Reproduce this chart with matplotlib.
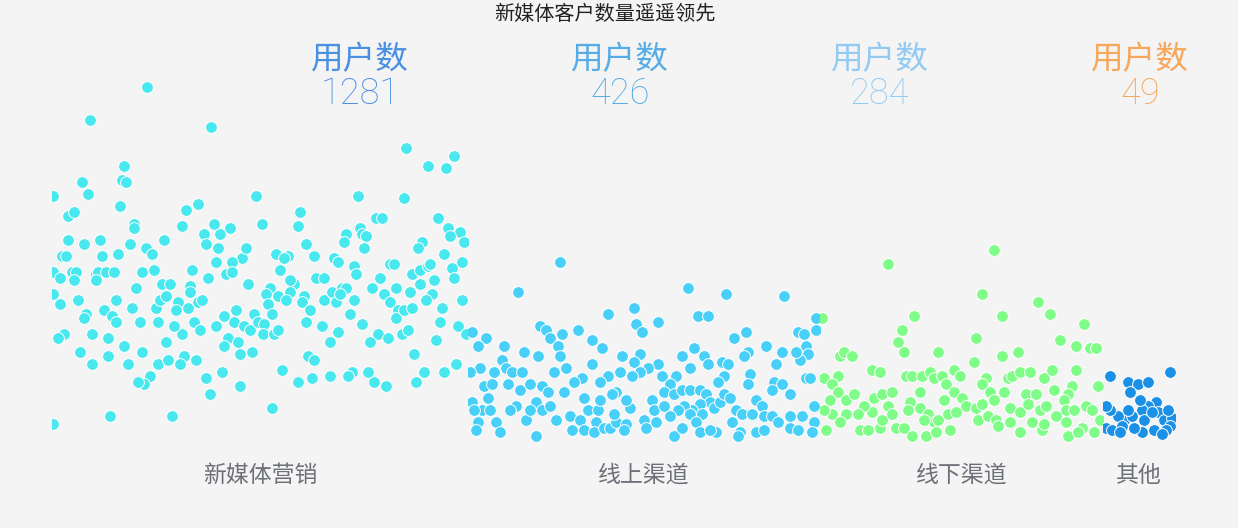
import matplotlib
matplotlib.use("Agg")
import matplotlib.pyplot as plt
import numpy as np

plt.rcParams['font.family'] = ['Noto Sans CJK SC', 'DejaVu Sans']

# groups: name, user count, colour of dots
categories = ["新媒体营销", "线上渠道", "线下渠道", "其他"]
user_counts = [1281, 426, 284, 49]
header_colors = ["#4A90E2", "#56ACE4", "#92CAF2", "#F7A65A"]
dot_colors = ["#48E8EE", "#48D0F8", "#80FC88", "#1A90E6"]

# (offset inside group, value)
xinmeiti = [
    (95, 363), (38, 330), (159, 323), (354, 302), (376, 284), (394, 282), (402, 294),
    (1, 254), (30, 268), (36, 256), (72, 284), (70, 270), (74, 268), (68, 244),
    (204, 254), (306, 254), (352, 252), (16, 234), (22, 238), (82, 226), (82, 222),
    (134, 240), (146, 246), (130, 224), (162, 226), (152, 216), (168, 216), (178, 222),
    (154, 206), (166, 202), (210, 226), (248, 238), (246, 224), (324, 232), (330, 232),
    (386, 232), (396, 222), (408, 218), (398, 214), (412, 208), (16, 210), (32, 206),
    (48, 210), (78, 206), (112, 210), (94, 202), (100, 196), (294, 216), (292, 208),
    (308, 222), (310, 216), (314, 214), (312, 202), (254, 206), (262, 194), (370, 208),
    (366, 202), (392, 196), (410, 188), (10, 194), (14, 194), (50, 194), (66, 196),
    (190, 192), (194, 202), (180, 188), (164, 188), (224, 196), (236, 194), (232, 192),
    (282, 192), (286, 188), (302, 184), (304, 176), (338, 186), (342, 186), (360, 176),
    (368, 180), (376, 184), (378, 186), (400, 182), (402, 172), (1, 178), (8, 172),
    (20, 178), (24, 178), (22, 170), (44, 176), (46, 178), (54, 178), (62, 178),
    (44, 170), (90, 178), (102, 180), (140, 180), (156, 172), (174, 176), (180, 178),
    (228, 180), (264, 172), (272, 172), (328, 172), (382, 170), (368, 166), (358, 158),
    (380, 156), (374, 150), (84, 162), (110, 166), (118, 166), (138, 164), (138, 158),
    (136, 142), (196, 166), (218, 162), (214, 156), (226, 154), (216, 146), (242, 166),
    (238, 170), (238, 158), (234, 150), (252, 154), (250, 148), (258, 140), (272, 150),
    (280, 158), (290, 162), (294, 162), (284, 148), (288, 156), (302, 150), (298, 136),
    (320, 162), (332, 156), (338, 148), (344, 162), (346, 140), (344, 132), (352, 140),
    (360, 142), (390, 142), (388, 128), (384, 110), (410, 150), (1, 156), (8, 146),
    (26, 150), (34, 136), (32, 132), (52, 140), (60, 134), (64, 128), (64, 150),
    (80, 142), (88, 128), (106, 128), (104, 142), (108, 150), (114, 154), (126, 148),
    (124, 140), (146, 148), (150, 150), (142, 128), (148, 120), (130, 116), (122, 124),
    (114, 108), (164, 124), (172, 134), (184, 140), (182, 128), (192, 124), (198, 120),
    (202, 136), (206, 128), (212, 126), (220, 136), (211, 116), (222, 116), (226, 120),
    (176, 112), (172, 104), (186, 108), (188, 96), (200, 98), (254, 128), (270, 124),
    (286, 118), (278, 108), (310, 126), (326, 116), (318, 108), (336, 112), (350, 116),
    (356, 120), (406, 124), (414, 116), (12, 116), (6, 112), (40, 116), (56, 112),
    (72, 104), (90, 98), (28, 98), (40, 86), (56, 94), (76, 86), (106, 86), (116, 90),
    (132, 94), (128, 86), (144, 90), (98, 74), (92, 66), (86, 68), (154, 72), (170, 78),
    (158, 56), (188, 64), (230, 80), (256, 94), (262, 90), (246, 68), (260, 72),
    (278, 74), (300, 78), (296, 74), (316, 78), (322, 68), (334, 64), (362, 96),
    (372, 78), (364, 68), (392, 78), (404, 86), (220, 42), (58, 34), (120, 34), (1, 26),
]

xianshang = [
    (92, 188), (50, 158), (220, 162), (258, 156), (316, 154), (140, 136), (166, 142),
    (168, 126), (174, 118), (190, 128), (230, 134), (240, 134), (72, 124), (78, 120),
    (82, 112), (94, 116), (90, 104), (92, 94), (110, 120), (124, 110), (134, 102),
    (4, 118), (18, 112), (10, 104), (36, 104), (56, 98), (70, 94), (34, 90), (38, 82),
    (266, 112), (278, 118), (298, 104), (280, 98), (276, 94), (314, 98), (308, 86),
    (330, 118), (336, 116), (348, 120), (338, 104), (340, 96), (332, 90), (328, 98),
    (226, 102), (236, 94), (214, 94), (240, 86), (222, 82), (254, 88), (260, 86),
    (154, 94), (172, 96), (166, 88), (190, 86), (180, 82), (172, 78), (164, 74),
    (152, 78), (140, 74), (132, 68), (124, 86), (114, 72), (106, 68), (98, 82),
    (86, 78), (12, 82), (26, 78), (44, 78), (54, 78), (2, 78), (16, 64), (24, 66),
    (40, 66), (52, 60), (62, 66), (74, 64), (80, 58), (68, 48), (20, 52), (4, 48),
    (14, 40), (22, 40), (6, 40), (10, 28), (8, 20), (28, 28), (32, 18), (48, 44),
    (42, 40), (58, 30), (62, 40), (74, 40), (82, 44), (88, 30), (96, 58), (102, 34),
    (104, 20), (112, 30), (116, 52), (120, 40), (130, 40), (128, 28), (132, 50),
    (116, 20), (126, 18), (136, 22), (142, 22), (148, 28), (158, 26), (156, 20),
    (146, 36), (162, 42), (158, 50), (148, 58), (144, 56), (176, 30), (178, 22),
    (188, 28), (184, 50), (186, 40), (196, 44), (194, 74), (208, 74), (202, 66),
    (196, 58), (206, 56), (214, 60), (222, 60), (232, 60), (238, 56), (242, 48),
    (232, 46), (224, 40), (216, 44), (210, 40), (202, 34), (206, 14), (214, 22),
    (222, 36), (234, 36), (228, 28), (232, 18), (246, 42), (252, 48), (256, 56),
    (262, 52), (256, 74), (250, 68), (248, 18), (242, 20), (268, 40), (274, 36),
    (264, 28), (272, 18), (270, 14), (284, 36), (288, 50), (294, 44), (296, 34),
    (304, 34), (288, 18), (296, 20), (310, 28), (322, 34), (334, 34), (322, 22),
    (330, 20), (346, 44), (346, 28), (344, 18), (282, 76), (280, 66), (306, 68),
    (314, 66), (304, 60), (322, 56), (338, 72), (342, 72), (68, 14), (348, 132),
]

xianxia = [
    (174, 200), (68, 186), (162, 156), (218, 148), (230, 136), (264, 126), (182, 134),
    (94, 134), (82, 120), (78, 108), (84, 98), (156, 112), (154, 88), (240, 110),
    (256, 104), (270, 102), (276, 102), (118, 98), (182, 94), (198, 98), (20, 94),
    (24, 98), (32, 94), (2, 132), (52, 80), (60, 78), (86, 74), (92, 74), (102, 74),
    (110, 78), (114, 72), (122, 74), (134, 80), (140, 74), (126, 66), (4, 72), (18, 74),
    (12, 66), (18, 58), (10, 50), (26, 50), (34, 56), (166, 72), (162, 66), (188, 72),
    (192, 74), (200, 78), (210, 78), (224, 72), (232, 80), (256, 80), (278, 64),
    (100, 58), (134, 58), (142, 52), (124, 50), (170, 58), (184, 58), (174, 50),
    (206, 56), (216, 56), (234, 60), (252, 64), (248, 56), (244, 50), (54, 52),
    (62, 56), (72, 58), (68, 44), (52, 38), (44, 44), (38, 36), (26, 36), (12, 36),
    (20, 28), (6, 20), (90, 48), (88, 40), (100, 42), (108, 36), (114, 28), (104, 30),
    (118, 30), (128, 36), (136, 38), (146, 44), (156, 42), (162, 46), (158, 30),
    (168, 34), (176, 30), (190, 42), (200, 38), (208, 46), (220, 40), (226, 44),
    (236, 34), (246, 40), (254, 40), (270, 42), (266, 44), (40, 20), (48, 20), (60, 22),
    (62, 30), (72, 36), (76, 22), (84, 22), (92, 14), (106, 14), (116, 18), (130, 20),
    (178, 24), (190, 28), (200, 18), (212, 28), (222, 20), (224, 26), (246, 28),
    (248, 14), (262, 22), (258, 18), (274, 18), (280, 30), (272, 40), (4, 40),
]

qita = [
    (7, 74), (25, 68), (35, 66), (45, 68), (27, 58), (67, 78), (53, 48), (45, 44),
    (39, 40), (55, 38), (61, 30), (69, 32), (67, 24), (63, 20), (51, 20), (39, 18),
    (31, 22), (21, 30), (15, 34), (7, 40), (3, 22), (9, 20), (19, 24), (29, 34),
    (41, 30), (49, 38), (25, 40), (3, 44), (59, 16), (17, 18), (37, 50), (65, 40),
]

groups = [xinmeiti, xianshang, xianxia, qita]

# layout in pixels of the 1238x528 canvas
W, H = 1238, 528
group_edges = [52, 468, 820, 1103, 1175]
plot_bottom, plot_top = 450, 80

fig = plt.figure(figsize=(W / 100, H / 100), dpi=100)
fig.patch.set_facecolor("#F4F4F4")

for i, pts in enumerate(groups):
    x0, x1 = group_edges[i], group_edges[i + 1]
    ax = fig.add_axes([x0 / W, 1 - plot_bottom / H, (x1 - x0) / W, (plot_bottom - plot_top) / H])
    ax.set_xlim(0, x1 - x0)
    ax.set_ylim(0, plot_bottom - plot_top)
    ax.axis("off")
    arr = np.array(pts)
    ax.scatter(arr[:, 0], arr[:, 1], s=72, color=dot_colors[i],
               edgecolors="white", linewidths=0.7)
    fig.text((x0 + x1) / 2 / W, 1 - 475 / H, categories[i], ha="center", va="center",
             fontsize=16.5, color="#6E7079")

# header numbers
for i, n in enumerate(user_counts):
    cx = (360 + 260 * i) / W
    fig.text(cx, 1 - 60 / H, "用户数", ha="center", va="center", fontsize=23.5,
             color=header_colors[i], fontweight=300)
    fig.text(cx, 1 - 94 / H, str(n), ha="center", va="center", fontsize=26,
             color=header_colors[i], fontweight="light", family=["Roboto", "DejaVu Sans"])

fig.text(605 / W, 1 - 14 / H, "新媒体客户数量遥遥领先", ha="center", va="center",
         fontsize=14.5, color="#222222")

fig.savefig("out.png", dpi=100, facecolor=fig.get_facecolor())
